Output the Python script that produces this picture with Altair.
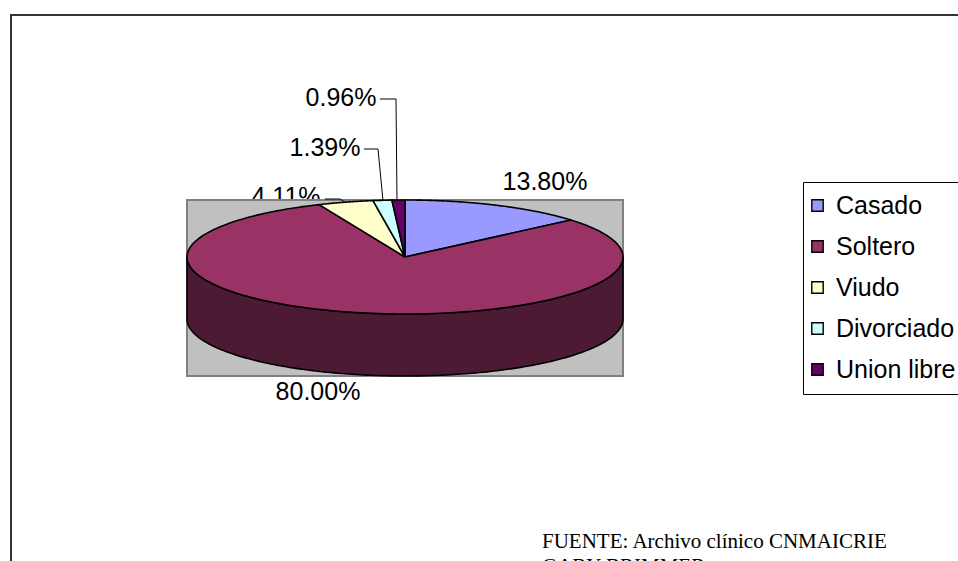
import altair as alt
import numpy as np
import pandas as pd

# ---------------- data ----------------
categories = ["Casado", "Soltero", "Viudo", "Divorciado", "Union libre"]
percentages = [13.80, 80.00, 4.11, 1.39, 0.96]
colors = ["#9999FF", "#993366", "#FFFFCC", "#CCFFFF", "#660066"]
side_color = "#4C1A33"
source_lines = ["FUENTE: Archivo clínico CNMAICRIE", "GABY BRIMMER"]

# ---------------- layout ----------------
W, H = 958, 561
CX, CY = 405, 257          # pixel centre of the pie top face
RX, RY = 218, 57           # pixel radii of the ellipse
DEPTH = 62 / RY            # pie thickness in y-units
N = 180                    # arc resolution

def ux(px):
    return (px - CX) / RX

def uy(py):
    return (CY - py) / RY

xscale = alt.Scale(domain=[ux(0), ux(W)], range=[0, W], nice=False, zero=False)
yscale = alt.Scale(domain=[uy(H), uy(0)], range=[H, 0], nice=False, zero=False)

# label anchor points (pixel layout, converted to axis units)
label_px = [545, 318, 286, 325, 341]
label_py = [190, 400, 205, 156, 106]

# ---------------- slice geometry tables ----------------
total = sum(percentages)
ends = np.cumsum(percentages) / total
starts = ends - np.array(percentages) / total

rows = []
for i, cat in enumerate(categories):
    rows.append(dict(cat=cat, s=starts[i], e=ends[i], t=0.0, c=1, o=0))
    for k in range(N + 1):
        rows.append(dict(cat=cat, s=starts[i], e=ends[i], t=k / N, c=0, o=k + 1))
    rows.append(dict(cat=cat, s=starts[i], e=ends[i], t=0.0, c=1, o=N + 2))
top_df = pd.DataFrame(rows)

side_rows = []
for k in range(N + 1):
    side_rows.append(dict(t=k / N, lvl=0, o=k))
for k in range(N + 1):
    side_rows.append(dict(t=(N - k) / N, lvl=1, o=N + 1 + k))
side_rows.append(dict(t=0.0, lvl=0, o=2 * N + 2))
side_df = pd.DataFrame(side_rows)

rect_df = pd.DataFrame([dict(x=-1, x2=1, y=1, y2=-1 - DEPTH)])

lab_df = pd.DataFrame(dict(
    cat=categories,
    label=[f"{v:.2f}%" for v in percentages],
    lx=[ux(p) for p in label_px],
    ly=[uy(p) for p in label_py],
))

# leader lines (pixel layout converted to axis units)
leader_segments = [
    (380, 99, 396, 99), (396, 99, 397, 201),
    (364, 149, 378, 149), (378, 149, 383, 201),
    (325, 199, 340, 199), (340, 199, 346, 203),
]
lead_df = pd.DataFrame([dict(x=ux(a), y=uy(b), x2=ux(c), y2=uy(d))
                        for a, b, c, d in leader_segments])

one = pd.DataFrame({"k": [0]})

LABEL_FONT = 25

# ---------------- layers ----------------
label_small_back = alt.Chart(lab_df).transform_filter(
    alt.datum.cat == "Viudo"
).mark_text(font="Liberation Sans", fontSize=LABEL_FONT, align="center",
            baseline="alphabetic", color="black").encode(
    x=alt.X("lx:Q", scale=xscale, axis=None),
    y=alt.Y("ly:Q", scale=yscale, axis=None),
    text="label:N",
)

plot_rect = alt.Chart(rect_df).mark_rect(
    fill="#C0C0C0", stroke="#808080", strokeWidth=2
).encode(
    x=alt.X("x:Q", scale=xscale, axis=None), x2="x2:Q",
    y=alt.Y("y:Q", scale=yscale, axis=None), y2="y2:Q",
)

side = alt.Chart(side_df).transform_calculate(
    th="PI/2 + PI*datum.t"
).transform_calculate(
    px="sin(datum.th)",
    py=f"cos(datum.th) - datum.lvl*{DEPTH}",
).mark_line(fill=side_color, stroke="black", strokeWidth=1.6,
            strokeJoin="round").encode(
    x=alt.X("px:Q", scale=xscale, axis=None),
    y=alt.Y("py:Q", scale=yscale, axis=None),
    order="o:Q",
)

top = alt.Chart(top_df).transform_calculate(
    th="2*PI*(datum.s + (datum.e - datum.s)*datum.t)"
).transform_calculate(
    px="datum.c == 1 ? 0 : sin(datum.th)",
    py="datum.c == 1 ? 0 : cos(datum.th)",
).mark_line(stroke="black", strokeWidth=1.6, strokeJoin="round").encode(
    x=alt.X("px:Q", scale=xscale, axis=None),
    y=alt.Y("py:Q", scale=yscale, axis=None),
    order="o:Q",
    detail="cat:N",
    fill=alt.Fill("cat:N", scale=alt.Scale(domain=categories, range=colors),
                  legend=alt.Legend(
                      title=None, orient="none", legendX=803, legendY=182,
                      symbolType="square", symbolSize=130,
                      symbolStrokeColor="black", symbolStrokeWidth=1.4,
                      symbolOpacity=1, symbolOffset=-9,
                      labelFont="Liberation Sans", labelFontSize=25,
                      labelColor="black", labelOffset=6, rowPadding=15,
                      padding=11, strokeColor="black", fillColor="white",
                      labelLimit=400,
                  )),
)

leaders = alt.Chart(lead_df).mark_rule(color="black", strokeWidth=1).encode(
    x=alt.X("x:Q", scale=xscale, axis=None), x2="x2:Q",
    y=alt.Y("y:Q", scale=yscale, axis=None), y2="y2:Q",
)

labels = alt.Chart(lab_df).transform_filter(
    alt.datum.cat != "Viudo"
).mark_text(font="Liberation Sans", fontSize=LABEL_FONT, align="center",
            baseline="alphabetic", color="black").encode(
    x=alt.X("lx:Q", scale=xscale, axis=None),
    y=alt.Y("ly:Q", scale=yscale, axis=None),
    text="label:N",
)

frame_left = alt.Chart(one).mark_rule(color="#333333", strokeWidth=2).encode(
    x=alt.value(11), y=alt.value(14), y2=alt.value(H))
frame_top = alt.Chart(one).mark_rule(color="#333333", strokeWidth=2).encode(
    x=alt.value(10), x2=alt.value(W), y=alt.value(15))

source = alt.Chart(one).mark_text(
    text=source_lines, font="Liberation Serif", fontSize=21, align="left",
    baseline="alphabetic", lineHeight=25, color="black"
).encode(x=alt.value(542), y=alt.value(548))

chart = alt.layer(
    label_small_back, plot_rect, side, top, leaders, labels,
    frame_left, frame_top, source,
).properties(
    width=W, height=H, autosize=alt.AutoSizeParams(type="none"), padding=0,
    background="white",
).configure_view(stroke=None)

chart.save("out.html", embed_options={"renderer": "svg", "actions": False})
